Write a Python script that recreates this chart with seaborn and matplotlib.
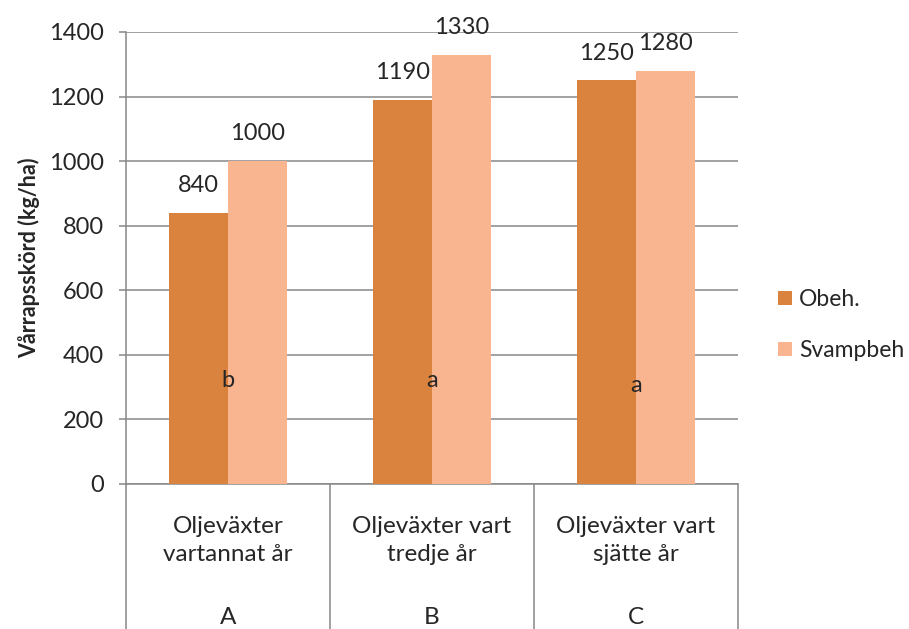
import matplotlib
matplotlib.use("Agg")
import matplotlib.pyplot as plt
import seaborn as sns
import pandas as pd
from matplotlib.patches import Patch

# ---- data ----
categories = ["A", "B", "C"]
cat_text = ["Oljeväxter\nvartannat år", "Oljeväxter vart\ntredje år", "Oljeväxter vart\nsjätte år"]
series = ["Obeh.", "Svampbeh"]
obeh = [840, 1190, 1250]
svampbeh = [1000, 1330, 1280]
letters = ["b", "a", "a"]
letter_y = [320, 320, 305]
yticks = [0, 200, 400, 600, 800, 1000, 1200, 1400]
ylabel = "Vårrapsskörd (kg/ha)"
colors = ["#D9833E", "#F8B58F"]

df = pd.DataFrame({
    "cat": categories * 2,
    "series": [series[0]] * 3 + [series[1]] * 3,
    "val": obeh + svampbeh,
})

sns.set_style("white")
plt.rcParams["font.family"] = ["Lato", "DejaVu Sans"]
FS = 17
GRID = "#878787"

fig = plt.figure(figsize=(9.09, 6.29), dpi=100)
ax = fig.add_axes([126 / 909, 1 - 484 / 629, (738 - 126) / 909, (484 - 32) / 629])

sns.barplot(data=df, x="cat", y="val", hue="series", order=categories,
            hue_order=series, palette=colors, saturation=1, width=0.575,
            linewidth=0, edgecolor="none", ax=ax, legend=False, zorder=3)

ax.set_ylim(0, 1400)
ax.set_xlim(-0.5, 2.5)
ax.set_yticks(yticks)
ax.set_yticklabels([str(v) for v in yticks], fontsize=FS)
ax.set_xticks([])
ax.set_xlabel("")
ax.set_ylabel("")
ax.yaxis.grid(True, color=GRID, linewidth=1.1, zorder=0)
ax.set_axisbelow(True)
ax.tick_params(axis="y", length=5, width=1.1, color=GRID, direction="out", pad=11, left=True)
for s in ["top", "right"]:
    ax.spines[s].set_visible(False)
for s in ["left", "bottom"]:
    ax.spines[s].set_color(GRID)
    ax.spines[s].set_linewidth(1.1)

# value labels
for cont in ax.containers:
    for rect in cont:
        h = rect.get_height()
        ax.annotate(f"{h:.0f}", (rect.get_x() + rect.get_width() / 2, h),
                    xytext=(0, 12), textcoords="offset points",
                    ha="center", va="bottom", fontsize=FS, zorder=5)

# significance letters
for i, (l, y) in enumerate(zip(letters, letter_y)):
    ax.text(i, y, l, ha="center", va="center", fontsize=FS, zorder=5)

# multi-level category axis
trans = ax.get_xaxis_transform()
for i, (t, c) in enumerate(zip(cat_text, categories)):
    ax.text(i, -0.125, t, transform=trans, ha="center", va="center",
            fontsize=17.5, linespacing=1.45, clip_on=False)
    ax.text(i, -0.295, c, transform=trans, ha="center", va="center",
            fontsize=17.5, clip_on=False)
for xb in [-0.5, 0.5, 1.5, 2.5]:
    ax.plot([xb, xb], [0, -0.33], transform=trans, color=GRID, lw=1.1,
            clip_on=False, zorder=1)

# y label
fig.text(29 / 909, 1 - 258 / 629, ylabel, rotation=90, ha="center", va="center",
         fontsize=15.5, fontweight="bold")

# legend
handles = [Patch(facecolor=colors[0], edgecolor="none"),
           Patch(facecolor=colors[1], edgecolor="none")]
fig.legend(handles, series, loc="center left",
           bbox_to_anchor=(769 / 909, 1 - 325 / 629), frameon=False,
           fontsize=16.5, handlelength=0.6, handleheight=0.6,
           handletextpad=0.3, labelspacing=1.3, borderaxespad=0)

fig.savefig("out.png", dpi=100)
